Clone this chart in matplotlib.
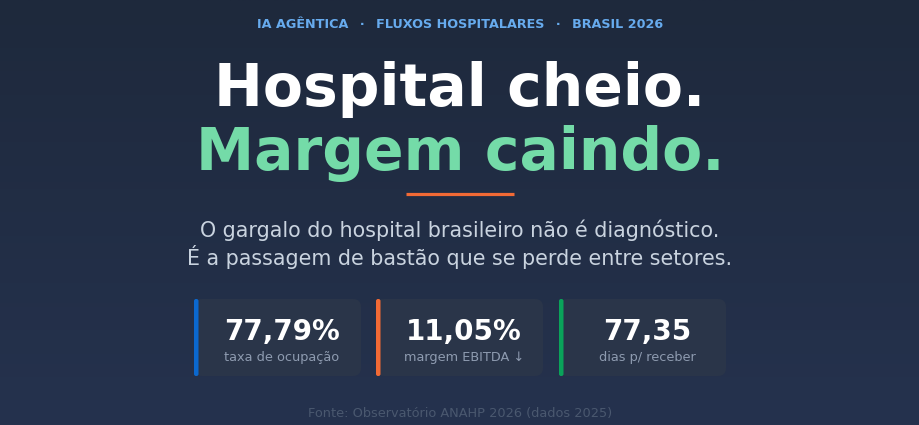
import numpy as np
from matplotlib import pyplot as plt
from matplotlib.patches import FancyBboxPatch

# ------------------ DATOS ----------------------------------------
sep = '  \u2009·\u2009  '
kicker = sep.join(['IA AGÊNTICA', 'FLUXOS HOSPITALARES', 'BRASIL 2026'])
titulo_1 = 'Hospital cheio.'
titulo_2 = 'Margem caindo.'
subtitulo = ['O gargalo do hospital brasileiro não é diagnóstico.',
             'É a passagem de bastão que se perde entre setores.']
valores = ['77,79%', '11,05%', '77,35']
etiquetas = ['taxa de ocupação', 'margem EBITDA ↓', 'dias p/ receber']
cores_kpi = ['#0b68cf', '#f26a35', '#0aa35a']
fonte = 'Fonte: Observatório ANAHP 2026 (dados 2025)'

# ------------------ FIGURA ----------------------------------------
W, H = 920, 425
fig = plt.figure(figsize=(W / 100, H / 100), dpi=100)
ax = fig.add_axes([0, 0, 1, 1])
ax.set_xlim(0, W)
ax.set_ylim(H, 0)
ax.axis('off')

# fondo con degradado vertical
top = np.array([0x1e, 0x29, 0x3c]) / 255
bot = np.array([0x25, 0x32, 0x4e]) / 255
t = np.linspace(0, 1, 256)[:, None, None]
grad = top * (1 - t) + bot * t
grad = np.repeat(grad, 2, axis=1)
ax.imshow(grad, extent=[0, W, H, 0], aspect='auto', zorder=0)

fam = 'DejaVu Sans'
ax.text(W / 2, 28, kicker, ha='center', va='baseline', fontsize=9.2,
        fontweight='bold', color='#67abee', family=fam)
ax.text(W / 2, 106, titulo_1, ha='center', va='baseline', fontsize=42,
        fontweight='bold', color='white', family=fam)
ax.text(W / 2, 170, titulo_2, ha='center', va='baseline', fontsize=42,
        fontweight='bold', color='#74dba8', family=fam)
ax.plot([406, 514], [194, 194], color='#f26a35', lw=2.3, solid_capstyle='butt')

for i, linea in enumerate(subtitulo):
    ax.text(W / 2, 237 + 28 * i, linea, ha='center', va='baseline',
            fontsize=14.9, color='#c9d3df', family=fam)

# tarjetas KPI
x0 = [194, 376, 559]
ancho, y_top, alto = 167, 299, 77
for x, v, e, c in zip(x0, valores, etiquetas, cores_kpi):
    card = FancyBboxPatch((x, y_top), ancho, alto,
                          boxstyle='round,pad=0,rounding_size=8',
                          fc='#2a3549', ec='none', zorder=1)
    ax.add_patch(card)
    barra = FancyBboxPatch((x, y_top), 4.5, alto,
                           boxstyle='round,pad=0,rounding_size=2',
                           fc=c, ec='none', zorder=2)
    ax.add_patch(barra)
    cx = x + 88
    ax.text(cx, 340, v, ha='center', va='baseline', fontsize=20,
            fontweight='bold', color='white', family=fam, zorder=3)
    ax.text(cx, 361, e, ha='center', va='baseline', fontsize=9.3,
            color='#8e9bb0', family=fam, zorder=3)

ax.text(W / 2, 417, fonte, ha='center', va='baseline', fontsize=9.3,
        color='#4a586f', family=fam)

fig.savefig('out.png', dpi=100)
